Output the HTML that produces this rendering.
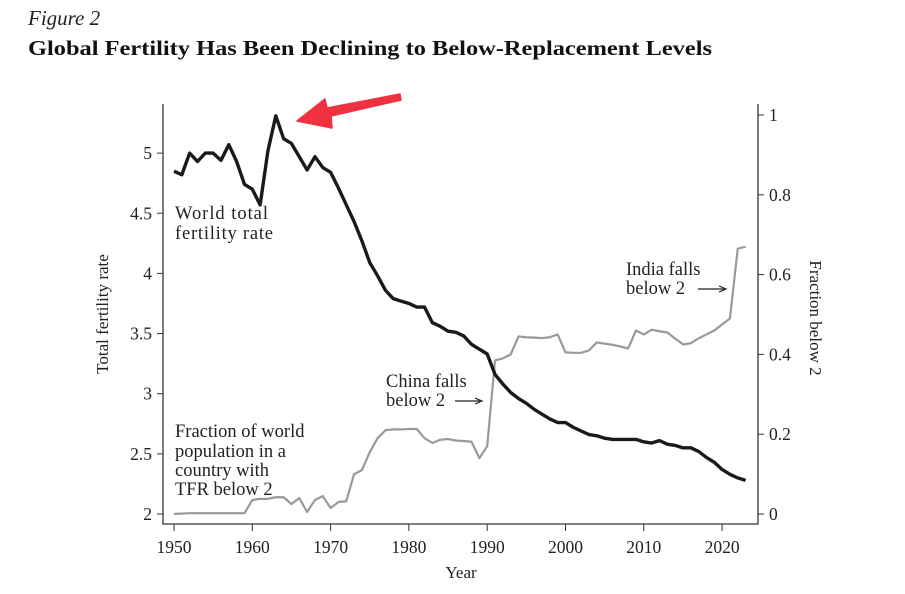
<!DOCTYPE html>
<html><head><meta charset="utf-8"><style>
body{margin:0;background:#fff}
svg{display:block;font-family:"Liberation Serif",serif}
</style></head><body>
<svg id="chart" width="905" height="594" viewBox="0 0 905 594">
<text x="28" y="25" font-size="21" font-style="italic" fill="#222">Figure 2</text>
<text x="28" y="55" font-size="21" font-weight="bold" fill="#111" textLength="684" lengthAdjust="spacingAndGlyphs">Global Fertility Has Been Declining to Below-Replacement Levels</text>
<g id="axes"></g>
<g id="series"></g>
<text font-size="18.5" fill="#222"><tspan x="175" y="219" textLength="93">World total</tspan><tspan x="175" y="239" textLength="98">fertility rate</tspan></text>
<text font-size="18.5" fill="#222"><tspan x="175" y="437">Fraction of world</tspan><tspan x="175" y="457">population in a</tspan><tspan x="175" y="476">country with</tspan><tspan x="175" y="495">TFR below 2</tspan></text>
<text font-size="18.5" fill="#222"><tspan x="386" y="387">China falls</tspan><tspan x="386" y="406">below 2</tspan></text>
<path d="M455 401 H480 M475 398 L482 401 L475 404" stroke="#222" stroke-width="1.2" fill="none"/>
<text font-size="18.5" fill="#222"><tspan x="626" y="275">India falls</tspan><tspan x="626" y="294">below 2</tspan></text>
<path d="M698 289 H724 M719 286 L726 289 L719 292" stroke="#222" stroke-width="1.2" fill="none"/>
<path d="M297 121 L325 99 L327 108 L400 94 L401 100 L331 116 L332 128 Z" fill="#f0313f" stroke="#f0313f" stroke-linejoin="round" stroke-width="1.5"/>
<text x="461" y="578" font-size="17" fill="#222" text-anchor="middle">Year</text>
<text font-size="17" fill="#222" text-anchor="middle" transform="translate(108,314) rotate(-90)">Total fertility rate</text>
<text font-size="17" fill="#222" text-anchor="middle" transform="translate(810,318) rotate(90)">Fraction below 2</text>
</svg>
<script>
const years=[];for(let y=1950;y<=2023;y++)years.push(y);
const tfr=[4.85,4.82,5.0,4.93,5.0,5.0,4.94,5.07,4.93,4.74,4.70,4.57,5.02,5.31,5.12,5.08,4.97,4.86,4.97,4.88,4.84,4.71,4.57,4.43,4.27,4.09,3.98,3.86,3.79,3.77,3.75,3.72,3.72,3.59,3.56,3.52,3.51,3.48,3.41,3.37,3.33,3.16,3.08,3.01,2.96,2.92,2.87,2.83,2.79,2.76,2.76,2.72,2.69,2.66,2.65,2.63,2.62,2.62,2.62,2.62,2.60,2.59,2.61,2.58,2.57,2.55,2.55,2.52,2.47,2.43,2.37,2.33,2.30,2.28];
const frac=[0,0.001,0.002,0.002,0.002,0.002,0.002,0.002,0.002,0.002,0.035,0.038,0.038,0.042,0.042,0.025,0.04,0.005,0.035,0.045,0.015,0.03,0.032,0.1,0.11,0.155,0.19,0.21,0.212,0.212,0.213,0.213,0.19,0.178,0.186,0.188,0.184,0.183,0.181,0.14,0.17,0.385,0.39,0.4,0.445,0.443,0.442,0.441,0.443,0.45,0.405,0.404,0.404,0.41,0.43,0.427,0.424,0.42,0.415,0.46,0.45,0.462,0.458,0.455,0.44,0.425,0.428,0.44,0.45,0.46,0.475,0.49,0.665,0.67];
const xTicks=[1950,1960,1970,1980,1990,2000,2010,2020];
const leftTicks=[2,2.5,3,3.5,4,4.5,5];
const rightTicks=[0,0.2,0.4,0.6,0.8,1];
const NS="http://www.w3.org/2000/svg";
const X=y=>174+(y-1950)*7.83;
const YL=v=>514-(v-2)*120.3;
const YR=v=>514-v*399;
function mk(tag,attrs,parent){const e=document.createElementNS(NS,tag);for(const k in attrs)e.setAttribute(k,attrs[k]);parent.appendChild(e);return e;}
const ax=document.getElementById('axes'),se=document.getElementById('series');
let a=mk('path',{d:'M163 104 V524 H758 V104',stroke:'#333','stroke-width':1.3,fill:'none'},ax);


xTicks.forEach(t=>{const x=X(t);
 let l=mk('line',{x1:x,x2:x,y1:524,y2:531,stroke:'#333'},ax);
 
 
 let tx=mk('text',{x:x,y:553,'font-size':17.5,'text-anchor':'middle',fill:'#222'},ax);tx.textContent=t;
 
 });
leftTicks.forEach(t=>{const y=YL(t);
 let l=mk('line',{x1:157,x2:163,y1:y,y2:y,stroke:'#333'},ax);
 
 
 let tx=mk('text',{x:152,y:y+6,'font-size':17.5,'text-anchor':'end',fill:'#222'},ax);tx.textContent=t;
 
 });
rightTicks.forEach(t=>{const y=YR(t);
 let l=mk('line',{x1:758,x2:764,y1:y,y2:y,stroke:'#333'},ax);
 
 
 let tx=mk('text',{x:769,y:y+6,'font-size':17.5,fill:'#222'},ax);tx.textContent=t;
 
 });
let g=mk('polyline',{points:years.map((y,i)=>X(y)+','+YR(frac[i])).join(' '),fill:'none',stroke:'#999','stroke-width':2.2,'stroke-linejoin':'round'},se);


let b=mk('polyline',{points:years.map((y,i)=>X(y)+','+YL(tfr[i])).join(' '),fill:'none',stroke:'#1a1a1a','stroke-width':3.4,'stroke-linejoin':'round'},se);


</script>
</body></html>
